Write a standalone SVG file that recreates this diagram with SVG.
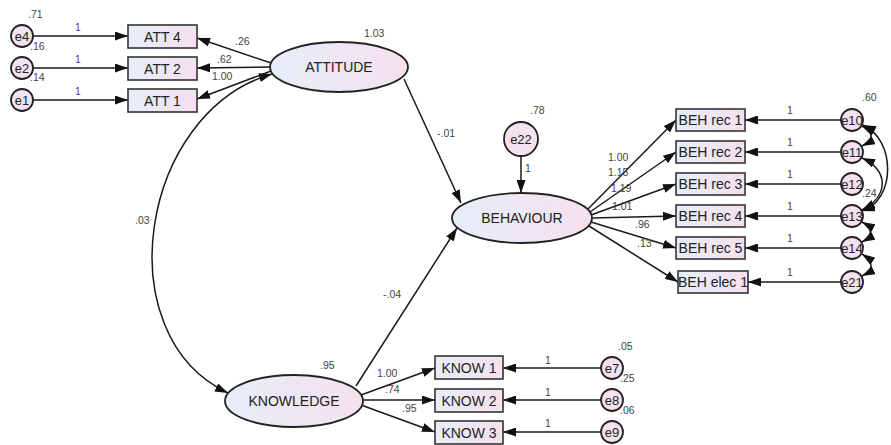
<svg xmlns="http://www.w3.org/2000/svg" width="891" height="445" viewBox="0 0 891 445">
  <defs>
    <linearGradient id="fillGrad" x1="0" y1="0" x2="1" y2="0">
      <stop offset="0" stop-color="#e6eef9"/>
      <stop offset="1" stop-color="#f6e0ee"/>
    </linearGradient>
    <marker id="ah" viewBox="0 0 13 9" refX="13" refY="4.5" markerWidth="13" markerHeight="9" orient="auto-start-reverse" markerUnits="userSpaceOnUse">
      <path d="M0,0 L13,4.5 L0,9 z" fill="#111"/>
    </marker>
  </defs>
  <style>
    .lat { fill: url(#fillGrad); stroke: #222; stroke-width: 1.8; }
    .obs { fill: url(#fillGrad); stroke: #333; stroke-width: 1.6; }
    .err { fill: #f4e2f0; stroke: #222; stroke-width: 1.8; }
    .lbl { font-family: "Liberation Sans", Arial, sans-serif; font-size: 14px; fill: #222; text-anchor: middle; }
    .elbl { font-family: "Liberation Sans", Arial, sans-serif; font-size: 13px; fill: #222; text-anchor: middle; }
    .num { font-family: "Liberation Sans", Arial, sans-serif; font-size: 10.5px; fill: #444; }
    .path { fill: none; stroke: #1a1a1a; stroke-width: 1.5; marker-end: url(#ah); }
    .cov { fill: none; stroke: #1a1a1a; stroke-width: 1.5; marker-start: url(#ah); marker-end: url(#ah); }
  </style>
  <rect width="891" height="445" fill="#ffffff"/>

  <!-- connectors -->
  <g id="connectors">
    <!-- error terms to attitude indicators -->
    <line class="path" x1="33" y1="36" x2="128" y2="36"/>
    <line class="path" x1="33" y1="68" x2="128" y2="68"/>
    <line class="path" x1="33" y1="100" x2="128" y2="100"/>
    <!-- ATTITUDE loadings -->
    <line class="path" x1="271" y1="63" x2="197" y2="38"/>
    <line class="path" x1="270" y1="67" x2="197" y2="68"/>
    <line class="path" x1="271" y1="71" x2="197" y2="99"/>
    <!-- ATTITUDE <-> KNOWLEDGE covariance -->
    <path class="cov" d="M272,74 C140,112 105,335 228,393"/>
    <!-- structural paths -->
    <line class="path" x1="404" y1="79" x2="461" y2="203"/>
    <line class="path" x1="356" y1="386" x2="457" y2="228"/>
    <line class="path" x1="521" y1="157" x2="521" y2="193"/>
    <!-- BEHAVIOUR loadings -->
    <line class="path" x1="588" y1="209" x2="676" y2="120"/>
    <line class="path" x1="590" y1="212" x2="676" y2="152"/>
    <line class="path" x1="591" y1="215" x2="676" y2="184"/>
    <line class="path" x1="592" y1="218" x2="676" y2="216"/>
    <line class="path" x1="591" y1="222" x2="676" y2="248"/>
    <line class="path" x1="589" y1="226" x2="678" y2="282"/>
    <!-- error terms to behaviour indicators -->
    <line class="path" x1="841" y1="120" x2="745" y2="120"/>
    <line class="path" x1="841" y1="152" x2="745" y2="152"/>
    <line class="path" x1="841" y1="184" x2="745" y2="184"/>
    <line class="path" x1="841" y1="216" x2="745" y2="216"/>
    <line class="path" x1="841" y1="248" x2="745" y2="248"/>
    <line class="path" x1="841" y1="282" x2="748" y2="282"/>
    <!-- error covariances -->
    <path class="cov" d="M862,126 C874,132 874,140 862,146"/>
    <path class="cov" d="M863,125 C896,140 896,200 862,211"/>
    <path class="cov" d="M862,158 C889,170 889,196 862,210"/>
    <path class="cov" d="M862,222 C873,228 873,236 862,242"/>
    <path class="cov" d="M862,254 C874,262 874,270 862,276"/>
    <!-- KNOWLEDGE loadings -->
    <line class="path" x1="361" y1="395" x2="435" y2="368"/>
    <line class="path" x1="363" y1="400" x2="435" y2="400"/>
    <line class="path" x1="361" y1="405" x2="435" y2="432"/>
    <!-- error terms to knowledge indicators -->
    <line class="path" x1="601" y1="368" x2="503" y2="368"/>
    <line class="path" x1="601" y1="400" x2="503" y2="400"/>
    <line class="path" x1="601" y1="432" x2="503" y2="432"/>
  </g>

  <!-- latent variables -->
  <g id="attitude">
    <ellipse class="lat" cx="339" cy="67" rx="69" ry="25"/>
    <text class="lbl" x="339" y="72">ATTITUDE</text>
  </g>
  <g id="behaviour">
    <ellipse class="lat" cx="522" cy="218" rx="70" ry="25"/>
    <text class="lbl" x="522" y="223">BEHAVIOUR</text>
  </g>
  <g id="knowledge">
    <ellipse class="lat" cx="294" cy="401" rx="69" ry="26"/>
    <text class="lbl" x="294" y="406">KNOWLEDGE</text>
  </g>

  <!-- attitude indicators -->
  <g id="att4"><rect class="obs" x="128" y="25" width="69" height="23"/><text class="lbl" x="162.5" y="41.5">ATT 4</text></g>
  <g id="att2"><rect class="obs" x="128" y="57" width="69" height="23"/><text class="lbl" x="162.5" y="73.5">ATT 2</text></g>
  <g id="att1"><rect class="obs" x="128" y="89" width="69" height="23"/><text class="lbl" x="162.5" y="105.5">ATT 1</text></g>

  <!-- behaviour indicators -->
  <g id="behrec1"><rect class="obs" x="676" y="109" width="69" height="22"/><text class="lbl" x="710.5" y="125">BEH rec 1</text></g>
  <g id="behrec2"><rect class="obs" x="676" y="141" width="69" height="22"/><text class="lbl" x="710.5" y="157">BEH rec 2</text></g>
  <g id="behrec3"><rect class="obs" x="676" y="173" width="69" height="22"/><text class="lbl" x="710.5" y="189">BEH rec 3</text></g>
  <g id="behrec4"><rect class="obs" x="676" y="205" width="69" height="22"/><text class="lbl" x="710.5" y="221">BEH rec 4</text></g>
  <g id="behrec5"><rect class="obs" x="676" y="237" width="69" height="22"/><text class="lbl" x="710.5" y="253">BEH rec 5</text></g>
  <g id="behelec1"><rect class="obs" x="678" y="271" width="70" height="22"/><text class="lbl" x="713" y="287">BEH elec 1</text></g>

  <!-- knowledge indicators -->
  <g id="know1"><rect class="obs" x="435" y="356" width="68" height="23"/><text class="lbl" x="469" y="372.5">KNOW 1</text></g>
  <g id="know2"><rect class="obs" x="435" y="389" width="68" height="23"/><text class="lbl" x="469" y="405.5">KNOW 2</text></g>
  <g id="know3"><rect class="obs" x="435" y="421" width="68" height="23"/><text class="lbl" x="469" y="437.5">KNOW 3</text></g>

  <!-- error terms -->
  <g id="e4"><circle class="err" cx="22" cy="36" r="11"/><text class="elbl" x="22" y="40.5">e4</text></g>
  <g id="e2"><circle class="err" cx="22" cy="68" r="11"/><text class="elbl" x="22" y="72.5">e2</text></g>
  <g id="e1"><circle class="err" cx="22" cy="100" r="11"/><text class="elbl" x="22" y="104.5">e1</text></g>
  <g id="e22"><circle class="err" cx="521" cy="139" r="17"/><text class="elbl" x="521" y="143.5">e22</text></g>
  <g id="e10"><circle class="err" cx="852" cy="120" r="11"/><text class="elbl" x="852" y="124.5">e10</text></g>
  <g id="e11"><circle class="err" cx="852" cy="152" r="11"/><text class="elbl" x="852" y="156.5">e11</text></g>
  <g id="e12"><circle class="err" cx="852" cy="184" r="11"/><text class="elbl" x="852" y="188.5">e12</text></g>
  <g id="e13"><circle class="err" cx="852" cy="216" r="11"/><text class="elbl" x="852" y="220.5">e13</text></g>
  <g id="e14"><circle class="err" cx="852" cy="248" r="11"/><text class="elbl" x="852" y="252.5">e14</text></g>
  <g id="e21"><circle class="err" cx="852" cy="282" r="11"/><text class="elbl" x="852" y="286.5">e21</text></g>
  <g id="e7"><circle class="err" cx="612" cy="368" r="11"/><text class="elbl" x="612" y="372.5">e7</text></g>
  <g id="e8"><circle class="err" cx="612" cy="400" r="11"/><text class="elbl" x="612" y="404.5">e8</text></g>
  <g id="e9"><circle class="err" cx="612" cy="432" r="11"/><text class="elbl" x="612" y="436.5">e9</text></g>

  <!-- estimates -->
  <g id="estimates">
    <text class="num" x="28" y="18">.71</text>
    <text class="num" x="75" y="31">1</text>
    <text class="num" x="30" y="50">.16</text>
    <text class="num" x="75" y="63">1</text>
    <text class="num" x="30" y="81">.14</text>
    <text class="num" x="75" y="95">1</text>
    <text class="num" x="235" y="45">.26</text>
    <text class="num" x="217" y="63">.62</text>
    <text class="num" x="212" y="80">1.00</text>
    <text class="num" x="364" y="37">1.03</text>
    <text class="num" x="135" y="224">.03</text>
    <text class="num" x="437" y="137">-.01</text>
    <text class="num" x="530" y="114">.78</text>
    <text class="num" x="525" y="172">1</text>
    <text class="num" x="383" y="298">-.04</text>
    <text class="num" x="320" y="369">.95</text>
    <text class="num" x="377" y="377">1.00</text>
    <text class="num" x="385" y="393">.74</text>
    <text class="num" x="402" y="412">.95</text>
    <text class="num" x="618" y="350">.05</text>
    <text class="num" x="620" y="382">.25</text>
    <text class="num" x="620" y="414">.06</text>
    <text class="num" x="545" y="364">1</text>
    <text class="num" x="545" y="396">1</text>
    <text class="num" x="545" y="427">1</text>
    <text class="num" x="608" y="161">1.00</text>
    <text class="num" x="608" y="176">1.15</text>
    <text class="num" x="611" y="192">1.19</text>
    <text class="num" x="612" y="210">1.01</text>
    <text class="num" x="635" y="228">.96</text>
    <text class="num" x="637" y="247">.13</text>
    <text class="num" x="787" y="114">1</text>
    <text class="num" x="787" y="146">1</text>
    <text class="num" x="787" y="178">1</text>
    <text class="num" x="787" y="210">1</text>
    <text class="num" x="787" y="242">1</text>
    <text class="num" x="787" y="276">1</text>
    <text class="num" x="862" y="101">.60</text>
    <text class="num" x="862" y="197">.24</text>
  </g>
</svg>
